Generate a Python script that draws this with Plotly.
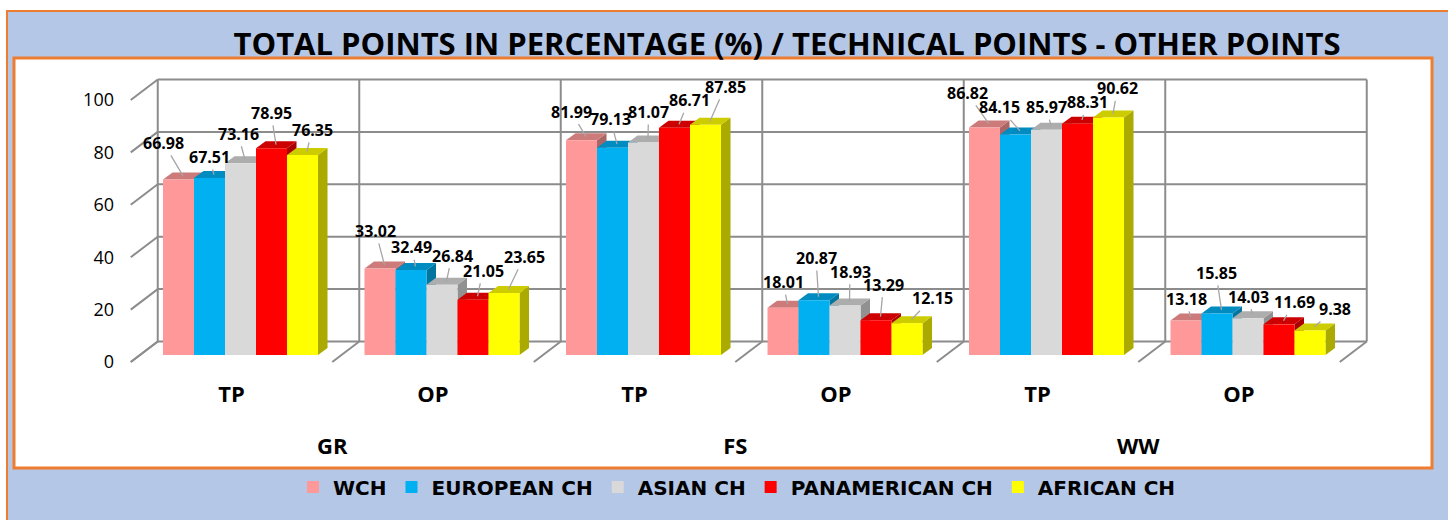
import plotly.graph_objects as go

# ---------------- data ----------------
groups = ["GR", "FS", "WW"]
parts = ["TP", "OP"]
series_names = ["WCH", "EUROPEAN CH", "ASIAN CH", "PANAMERICAN CH", "AFRICAN CH"]
wch = [66.98, 33.02, 81.99, 18.01, 86.82, 13.18]
european = [67.51, 32.49, 79.13, 20.87, 84.15, 15.85]
asian = [73.16, 26.84, 81.07, 18.93, 85.97, 14.03]
panamerican = [78.95, 21.05, 86.71, 13.29, 88.31, 11.69]
african = [76.35, 23.65, 87.85, 12.15, 90.62, 9.38]
y_ticks = [0, 20, 40, 60, 80, 100]
title_text = "TOTAL POINTS IN PERCENTAGE (%) / TECHNICAL POINTS - OTHER POINTS"

# ---------------- style ----------------
front_colors = ["#FF9999", "#00B0F0", "#D9D9D9", "#FF0000", "#FFFF00"]

def shade(hexcol, f):
    r, g, b = int(hexcol[1:3], 16), int(hexcol[3:5], 16), int(hexcol[5:7], 16)
    return "rgb(%d,%d,%d)" % (r * f, g * f, b * f)

top_colors = [shade(c, 0.80) for c in front_colors]
side_colors = [shade(c, 0.67) for c in front_colors]

# label offsets (pixels, text centre relative to top-face centre), per series, per category
label_offsets = [
    [(-19.5, -33), (-9, -34), (-15, -25), (-4.5, -22), (-22, -31), (-4.5, -18)],
    [(-5, -17.5), (-4, -19), (-6.5, -25), (-2.5, -38.7), (-20.5, -23.6), (-5.5, -37)],
    [(-7, -26), (5.5, -25.4), (0.5, -27), (0.5, -30), (-4.5, -19), (-4.5, -18)],
    [(-5, -31.6), (5.5, -25.5), (10, -24), (3, -32), (5, -17.7), (10.5, -18.5)],
    [(5, -21.4), (15.5, -32.7), (15, -34.5), (20.5, -21.3), (4.5, -25.7), (20, -17.8)],
]

FONT = "Open Sans"
W, H = 1448, 520
PX_X0, PX_PER_X = 240.5, 201.5   # pixel of category 0 and pixels per category
PX_Y0, PX_PER_Y = 355.0, 2.62    # pixel of value 0 (bar front plane) and pixels per unit

def dxu(px):
    return px / PX_PER_X

def dyu(px):
    return px / PX_PER_Y

x_range = [(0 - PX_X0) / PX_PER_X, (W - PX_X0) / PX_PER_X]
y_range = [(PX_Y0 - H) / PX_PER_Y, PX_Y0 / PX_PER_Y]
# floor front plane (tick labels) is 7 px lower than the bar front plane
FLOOR_Y0 = 362.0
y2_range = [(FLOOR_Y0 - H) / PX_PER_Y, FLOOR_Y0 / PX_PER_Y]

bargap = 1 - 155 / PX_PER_X
n_series = 5
bar_w = (1 - bargap) / n_series

# depth offsets
bdx, bdy = dxu(9.5), dyu(7.0)      # bar depth
wdx, wdy = dxu(18.0), dyu(13.5)    # back wall relative to bar front
fdx, fdy = dxu(9.0), dyu(7.0)      # floor front relative to bar front

values = [wch, european, asian, panamerican, african]
n_cat = len(groups) * len(parts)
xs = list(range(n_cat))

fig = go.Figure()
for k, (name, vals) in enumerate(zip(series_names, values)):
    fig.add_trace(go.Bar(
        x=xs, y=vals, name=name,
        marker=dict(color=front_colors[k], line=dict(width=0)),
        hoverinfo="skip",
    ))

shapes = []
# outer frame and inner panel
shapes.append(dict(type="rect", xref="paper", yref="paper", layer="below",
                   x0=7 / W, x1=1.2, y0=-0.2, y1=1 - 11 / H,
                   fillcolor="#B4C7E7", line=dict(color="#ED7D31", width=2)))
shapes.append(dict(type="rect", xref="paper", yref="paper", layer="below",
                   x0=14 / W, x1=1432 / W, y0=1 - 468 / H, y1=1 - 58 / H,
                   fillcolor="#FFFFFF", line=dict(color="#ED7D31", width=3)))

grid_line = dict(color="#8C8C8C", width=2)
left = -0.5
right = n_cat - 0.5
top = y_ticks[-1]
# back wall horizontal gridlines
for v in y_ticks:
    shapes.append(dict(type="line", xref="x", yref="y", layer="below",
                       x0=left + wdx, x1=right + wdx, y0=v + wdy, y1=v + wdy, line=grid_line))
    # side wall diagonals (left)
    shapes.append(dict(type="line", xref="x", yref="y", layer="below",
                       x0=left - fdx, x1=left + wdx, y0=v - fdy, y1=v + wdy, line=grid_line))
# back wall verticals and floor diagonals
for b in range(n_cat + 1):
    xb = left + b
    shapes.append(dict(type="line", xref="x", yref="y", layer="below",
                       x0=xb + wdx, x1=xb + wdx, y0=wdy, y1=top + wdy, line=grid_line))
    shapes.append(dict(type="line", xref="x", yref="y", layer="below",
                       x0=xb - fdx, x1=xb + wdx, y0=-fdy, y1=wdy, line=grid_line))

# 3D faces of bars (drawn below the bar traces)
for i in range(n_cat):
    for k in range(n_series):
        v = values[k][i]
        c = i + (k - (n_series - 1) / 2) * bar_w
        x0, x1 = c - bar_w / 2, c + bar_w / 2
        side = "M %f,%f L %f,%f L %f,%f L %f,%f Z" % (x1, 0, x1, v, x1 + bdx, v + bdy, x1 + bdx, bdy)
        topf = "M %f,%f L %f,%f L %f,%f L %f,%f Z" % (x0, v, x1, v, x1 + bdx, v + bdy, x0 + bdx, v + bdy)
        shapes.append(dict(type="path", xref="x", yref="y", layer="below", path=side,
                           fillcolor=side_colors[k], line=dict(width=0)))
        shapes.append(dict(type="path", xref="x", yref="y", layer="below", path=topf,
                           fillcolor=top_colors[k], line=dict(width=0)))

annotations = []
for k in range(n_series):
    for i in range(n_cat):
        v = values[k][i]
        c = i + (k - (n_series - 1) / 2) * bar_w
        ox, oy = label_offsets[k][i]
        annotations.append(dict(
            x=c + dxu(4.5), y=v + dyu(3.6), xref="x", yref="y",
            ax=ox, ay=oy, text="%.2f" % v, showarrow=True,
            arrowhead=0, arrowwidth=1.3, arrowcolor="#A6A6A6", standoff=0,
            font=dict(family=FONT, size=16, color="#000000", weight="bold"),
        ))

fig.update_layout(
    width=W, height=H,
    margin=dict(l=0, r=0, t=0, b=0),
    paper_bgcolor="#FFFFFF",
    plot_bgcolor="rgba(0,0,0,0)",
    barmode="group", bargap=bargap, bargroupgap=0,
    shapes=shapes,
    annotations=annotations,
    title=dict(text=title_text, x=787 / W, xanchor="center", y=1 - 44 / H, yanchor="middle",
               font=dict(family=FONT, size=31, color="#000000", weight="bold")),
    showlegend=True,
    legend=dict(orientation="h", x=737 / W, xanchor="center", y=1 - 487 / H, yanchor="middle",
                bgcolor="rgba(0,0,0,0)",
                font=dict(family="DejaVu Sans", size=20, color="#000000", weight="bold")),
    xaxis=dict(domain=[0, 1], range=x_range, anchor="free", position=1 - 379 / H, side="bottom",
               tickmode="array", tickvals=[x - fdx for x in xs], ticktext=parts * len(groups),
               showgrid=False, zeroline=False, showline=False, ticks="",
               tickfont=dict(family=FONT, size=22, color="#000000", weight="bold")),
    xaxis2=dict(overlaying="x", range=x_range, anchor="free", position=1 - 431 / H, side="bottom",
                tickmode="array", tickvals=[2 * g + 0.5 - fdx for g in range(len(groups))],
                ticktext=groups, showgrid=False, zeroline=False, showline=False, ticks="",
                tickfont=dict(family=FONT, size=22, color="#000000", weight="bold")),
    yaxis=dict(domain=[0, 1], range=y_range, showgrid=False, zeroline=False, showline=False,
               showticklabels=False, ticks=""),
    yaxis2=dict(overlaying="y", range=y2_range, anchor="free", position=114 / W, side="left",
                tickmode="array", tickvals=y_ticks, showgrid=False, zeroline=False, showline=False,
                ticks="", tickfont=dict(family=FONT, size=18, color="#000000")),
)
# a dummy invisible trace so xaxis2 / yaxis2 are drawn
fig.add_trace(go.Scatter(x=[None], y=[None], xaxis="x2", yaxis="y2", showlegend=False,
                         hoverinfo="skip"))

fig.write_html("out.html", config={"displayModeBar": False},
               post_script="document.body.style.margin='0px';")
